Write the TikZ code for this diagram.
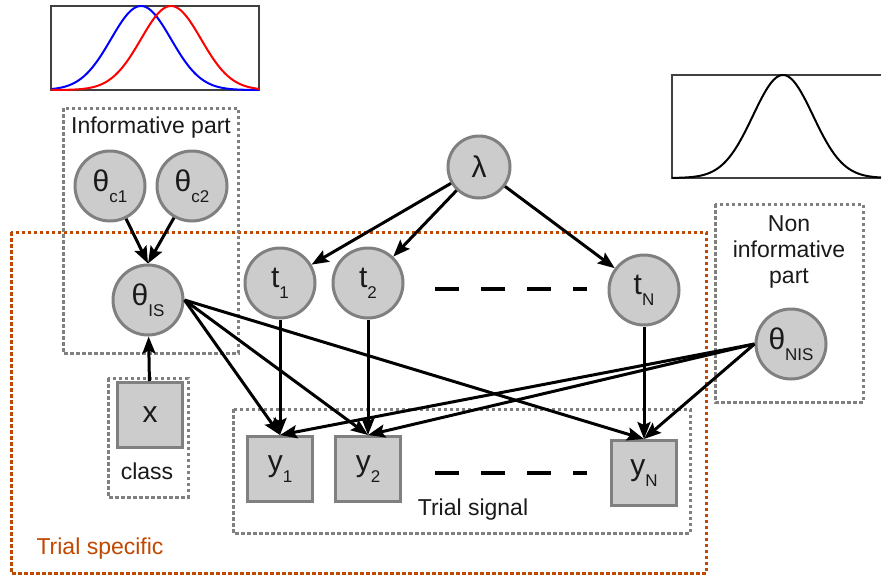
\documentclass[tikz,border=0pt]{standalone}
\usepackage{fontspec}
\setmainfont{Liberation Sans}
\usetikzlibrary{arrows.meta}
\definecolor{nodefill}{RGB}{204,204,204}
\definecolor{nodedraw}{RGB}{128,128,128}
\definecolor{boxgray}{RGB}{128,128,128}
\definecolor{trialorange}{RGB}{192,72,0}
\definecolor{txt}{RGB}{26,26,26}
\newcommand{\varlab}[2]{#1\raisebox{-11pt}{\fontsize{17}{17}\selectfont #2}}
\tikzset{
  rv/.style={circle, draw=nodedraw, fill=nodefill, line width=3pt, minimum size=70pt, inner sep=0pt, text=txt, font=\fontsize{30}{30}\selectfont},
  obs/.style={rectangle, draw=nodedraw, fill=nodefill, line width=3pt, minimum size=65pt, inner sep=0pt, text=txt, font=\fontsize{30}{30}\selectfont},
  arr/.style={line width=3pt, -{Stealth[length=17pt,width=13pt,inset=3pt]}},
  dotbox/.style={draw=boxgray, line width=3pt, dash pattern=on 3.5pt off 2.5pt},
  orangebox/.style={draw=trialorange, line width=3pt, dash pattern=on 3.5pt off 2.5pt},
  lab/.style={text=txt, font=\fontsize{23}{26}\selectfont, inner sep=0pt},
  gap/.style={line width=3.5pt, dash pattern=on 24pt off 22pt},
  plotframe/.style={draw=black!75, line width=2pt},
}
\begin{document}
\begin{tikzpicture}[x=1pt,y=-1pt]
\useasboundingbox[fill=white] (0,0) rectangle (882,576);
% plots
\draw[plotframe] (51,6) rectangle (259,90);
\draw[blue, line width=2pt] plot[domain=51:259, samples=120, smooth] (\x, {90-84*exp(-((\x-141)^2)/1800)});
\draw[red, line width=2pt] plot[domain=51:259, samples=120, smooth] (\x, {90-84*exp(-((\x-171)^2)/1800)});
\draw[plotframe] (881,75) -- (672,75) -- (672,178) -- (881,178);
\draw[black, line width=2pt] plot[domain=672:881, samples=120, smooth] (\x, {178-103*exp(-((\x-783)^2)/1800)});
% boxes
\draw[orangebox] (11,232) rectangle (706,573);
\draw[dotbox] (63,108) rectangle (238,353);
\draw[dotbox] (108,378) rectangle (188,497);
\draw[dotbox] (233,409) rectangle (690,533);
\draw[dotbox] (715,204) rectangle (863,402);
% labels
\node[lab] (linf) at (151,128) {Informative part};
\node[lab] (lclass) at (147,471) {class};
\node[lab] (lsig) at (473,510) {Trial signal};
\node[lab, text=trialorange] (lspec) at (100,549) {Trial specific};
\node[lab, align=center] (lnon) at (789,252) {Non\\informative\\part};
% nodes
\node[rv] (c1) at (110,186) {\varlab{θ}{c1}};
\node[rv] (c2) at (192,186) {\varlab{θ}{c2}};
\node[rv] (is) at (148,300) {\varlab{θ}{IS}};
\node[obs] (x) at (150,415) {x};
\node[rv, minimum size=62pt] (lam) at (479,167) {λ};
\node[rv] (t1) at (280,283) {\varlab{t}{1}};
\node[rv] (t2) at (368,283) {\varlab{t}{2}};
\node[rv] (tN) at (644,290) {\varlab{t}{N}};
\node[rv] (nis) at (791,344) {\varlab{θ}{NIS}};
\node[obs] (y1) at (280,469) {\varlab{y}{1}};
\node[obs] (y2) at (368,469) {\varlab{y}{2}};
\node[obs] (yN) at (644,473) {\varlab{y}{N}};
% ellipses
\coordinate (da) at (435,289);
\coordinate (db) at (587,289);
\coordinate (dc) at (435,473);
\coordinate (dd) at (587,473);
\draw[gap] (da) -- (db);
\draw[gap] (dc) -- (dd);
% edges
\draw[arr] (c1) -- (is.north);
\draw[arr] (c2) -- (is.north);
\draw[arr] (x) -- (is);
\draw[arr] (lam) -- (t1);
\draw[arr] (lam) -- (t2);
\draw[arr] (lam) -- (tN);
\draw[arr] (t1) -- (y1);
\draw[arr] (t2) -- (y2);
\draw[arr] (tN) -- (yN);
\draw[arr] (is.east) -- (y1.north);
\draw[arr] (is.east) -- (y2.north);
\draw[arr] (is.east) -- (yN.north);
\draw[arr] (nis.west) -- (y1.north);
\draw[arr] (nis.west) -- (y2.north);
\draw[arr] (nis.west) -- (yN.north);
\end{tikzpicture}
\end{document}
